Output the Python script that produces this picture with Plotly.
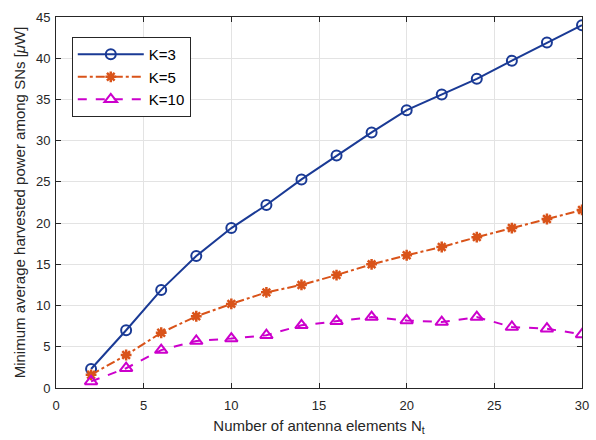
import plotly.graph_objects as go

x_vals = [2, 4, 6, 8, 10, 12, 14, 16, 18, 20, 22, 24, 26, 28, 30]
k3 = [2.3, 7.0, 11.9, 16.0, 19.4, 22.2, 25.3, 28.2, 31.0, 33.7, 35.6, 37.5, 39.7, 41.9, 44.0]
k5 = [1.6, 4.0, 6.7, 8.7, 10.2, 11.6, 12.5, 13.7, 15.0, 16.1, 17.1, 18.3, 19.4, 20.5, 21.6]
k10 = [0.8, 2.4, 4.6, 5.7, 6.0, 6.4, 7.6, 8.1, 8.6, 8.2, 8.0, 8.6, 7.4, 7.2, 6.5]
names = ["K=3", "K=5", "K=10"]
x_ticks = [0, 5, 10, 15, 20, 25, 30]
y_ticks = [0, 5, 10, 15, 20, 25, 30, 35, 40, 45]

fig = go.Figure()
fig.add_trace(go.Scatter(
    x=x_vals, y=k3, name=names[0], mode="lines+markers",
    line=dict(color="#1a3a95", width=2, dash="solid"),
    marker=dict(symbol="circle-open", size=10, color="#1a3a95", line=dict(width=2, color="#1a3a95"))))
fig.add_trace(go.Scatter(
    x=x_vals, y=k5, name=names[1], mode="lines+markers",
    line=dict(color="#d95319", width=2, dash="dashdot"),
    marker=dict(symbol="asterisk-open", size=9, color="#d95319", line=dict(width=2.5, color="#d95319"))))
fig.add_trace(go.Scatter(
    x=x_vals, y=k10, name=names[2], mode="lines+markers",
    line=dict(color="#cc00cc", width=2, dash="dash"),
    marker=dict(symbol="triangle-up-open", size=11, color="#cc00cc", line=dict(width=2, color="#cc00cc"))))

axis_common = dict(
    showline=True, linecolor="#262626", linewidth=1, mirror="ticks",
    ticks="inside", ticklen=5, tickcolor="#262626", automargin=False,
    showgrid=True, gridcolor="#e3e3e3", gridwidth=1, zeroline=False,
    tickfont=dict(family="Liberation Sans, Arial", size=13, color="#262626"),
)
fig.update_xaxes(range=[0, 30], tickvals=x_ticks, ticklabelstandoff=5,
                 title=dict(text="Number of antenna elements N<sub>t</sub>", standoff=8,
                            font=dict(family="Liberation Sans, Arial", size=15, color="#262626")),
                 **axis_common)
fig.update_yaxes(range=[0, 45], tickvals=y_ticks, ticklabelstandoff=2,
                 title=dict(text="Minimum average harvested power among SNs [<i>μ</i>W]", standoff=6,
                            font=dict(family="Liberation Sans, Arial", size=15, color="#262626")),
                 **axis_common)

fig.update_layout(
    width=596, height=440,
    margin=dict(l=56, r=14, t=17, b=52),
    plot_bgcolor="white", paper_bgcolor="white",
    font=dict(family="Liberation Sans, Arial", size=13, color="#262626"),
    legend=dict(x=0.03, y=0.946, xanchor="left", yanchor="top",
                bgcolor="white", bordercolor="#262626", borderwidth=1,
                font=dict(family="Liberation Sans, Arial", size=15, color="#000000"),
                tracegroupgap=0, itemwidth=66),
    showlegend=True,
)

fig.write_html("out.html")
